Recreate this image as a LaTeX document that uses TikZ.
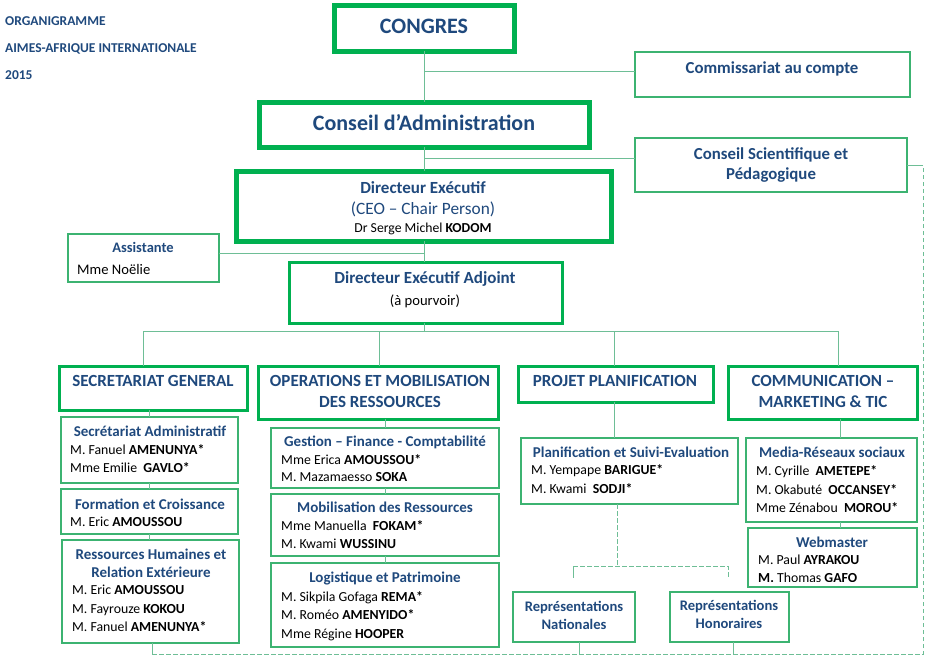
\documentclass[tikz,border=0pt]{standalone}
\usepackage{fontspec}
\setmainfont{Carlito}
\definecolor{dblue}{RGB}{31,73,125}
\definecolor{gthick}{RGB}{0,176,80}
\definecolor{gthin}{RGB}{60,179,113}
\definecolor{gline}{RGB}{110,190,150}
\newcommand\mybox[6]{\node[#2, anchor=north west, minimum width={(#5-#3)*1pt}, minimum height={(#6-#4)*1pt}, inner sep=0pt, outer sep=0pt] (#1) at (#3,#4) {};}
\begin{document}
\begin{tikzpicture}[x=1pt,y=-1pt,
 bigbox/.style={draw=gthick, line width=5pt, fill=white},
 midbox/.style={draw=gthick, line width=3pt, fill=white},
 subbox/.style={draw=gthin, line width=1.3pt, fill=white},
 conn/.style={draw=gline, line width=0.9pt},
 dconn/.style={conn, dash pattern=on 4.5pt off 2.5pt},
 txt/.style={inner sep=0pt, yshift=-2pt},
 hdr/.style={txt, text=dblue, font=\fontsize{13.5}{16}\selectfont\bfseries, anchor=mid west},
 huge/.style={txt, text=dblue, font=\fontsize{22}{26}\selectfont\bfseries, anchor=mid},
 dept/.style={txt, text=dblue, font=\fontsize{17}{20}\selectfont\bfseries, anchor=mid},
 ttl/.style={txt, text=dblue, font=\fontsize{15}{18}\selectfont\bfseries, anchor=mid},
 nm/.style={txt, text=black, font=\fontsize{13.8}{16}\selectfont, anchor=mid west},
 nmc/.style={txt, text=black, font=\fontsize{13.8}{16}\selectfont, anchor=mid}]
\useasboundingbox (0,0) rectangle (932,659);

% header
\node[hdr] (h1) at (5,21) {ORGANIGRAMME};
\node[hdr] (h2) at (5,48) {AIMES-AFRIQUE INTERNATIONALE};
\node[hdr] (h3) at (5,75) {2015};

% top boxes
\mybox{congres}{bigbox}{334}{5}{514}{51}
\node[huge] (tcongres) at (424,29) {CONGRES};
\mybox{com}{subbox}{635}{52}{910}{97}
\node[dept, font=\fontsize{16.8}{20}\selectfont\bfseries] (tcom) at (772,69) {Commissariat au compte};
\mybox{cda}{bigbox}{259}{102}{589}{147}
\node[huge] (tcda) at (424,126) {Conseil d’Administration};
\mybox{cs}{subbox}{635}{138}{907}{192}
\node[dept, font=\fontsize{16.8}{20}\selectfont\bfseries] (tcs1) at (771,155) {Conseil Scientifique et};
\node[dept, font=\fontsize{16.8}{20}\selectfont\bfseries] (tcs2) at (771,175) {Pédagogique};
\mybox{de}{bigbox}{236}{171}{611}{241}
\node[dept, font=\fontsize{17}{20}\selectfont\bfseries] (tde1) at (423,189) {Directeur Exécutif};
\node[dept, font=\fontsize{17.3}{20}\selectfont] (tde2) at (423,210) {(CEO – Chair Person)};
\node[nmc, font=\fontsize{13.7}{16}\selectfont] (tde3) at (423,228) {Dr Serge Michel \textbf{KODOM}};
\mybox{ass}{subbox}{68}{234}{219}{282}
\node[ttl, font=\fontsize{14.5}{17}\selectfont\bfseries] (tass1) at (143,248) {Assistante};
\node[nm, font=\fontsize{14.6}{17}\selectfont] (tass2) at (77,270) {Mme Noëlie};
\mybox{dea}{midbox}{289}{262}{562}{323}
\node[dept, font=\fontsize{17}{20}\selectfont\bfseries] (tdea1) at (425,279) {Directeur Exécutif Adjoint};
\node[nmc, font=\fontsize{14.6}{17}\selectfont] (tdea2) at (425,301) {(à pourvoir)};

% departments
\mybox{sg}{midbox}{59}{366}{247}{410}
\node[dept] (tsg) at (153,382) {SECRETARIAT GENERAL};
\mybox{omr}{midbox}{258}{366}{498}{419}
\node[dept] (tomr1) at (380,382) {OPERATIONS ET MOBILISATION};
\node[dept] (tomr2) at (380,403) {DES RESSOURCES};
\mybox{pp}{midbox}{518}{366}{713}{402}
\node[dept] (tpp) at (615,382) {PROJET PLANIFICATION};
\mybox{cm}{midbox}{728}{366}{917}{419}
\node[dept] (tcm1) at (823,382) {COMMUNICATION –};
\node[dept] (tcm2) at (823,403) {MARKETING \& TIC};

% SG column
\mybox{sadm}{subbox}{61}{417}{238}{483}
\node[ttl] (tsadm) at (150,432) {Secrétariat Administratif};
\node[nm] (sadm1) at (70,450) {M. Fanuel \textbf{AMENUNYA*}};
\node[nm] (sadm2) at (70,468) {Mme Emilie\ \ \textbf{GAVLO*}};
\mybox{form}{subbox}{61}{489}{238}{534}
\node[ttl] (tform) at (150,505) {Formation et Croissance};
\node[nm] (form1) at (70,522) {M. Eric \textbf{AMOUSSOU}};
\mybox{rh}{subbox}{62}{540}{239}{643}
\node[ttl] (trh1) at (151,555) {Ressources Humaines et};
\node[ttl] (trh2) at (151,573) {Relation Extérieure};
\node[nm] (rh1) at (72,590) {M. Eric \textbf{AMOUSSOU}};
\node[nm] (rh2) at (72,609) {M. Fayrouze \textbf{KOKOU}};
\node[nm] (rh3) at (72,627) {M. Fanuel \textbf{AMENUNYA*}};

% OMR column
\mybox{gest}{subbox}{271}{428}{499}{488}
\node[ttl] (tgest) at (385,442) {Gestion – Finance - Comptabilité};
\node[nm] (gest1) at (281,460) {Mme Erica \textbf{AMOUSSOU*}};
\node[nm] (gest2) at (281,477) {M. Mazamaesso \textbf{SOKA}};
\mybox{mob}{subbox}{271}{494}{499}{556}
\node[ttl] (tmob) at (385,508) {Mobilisation des Ressources};
\node[nm] (mob1) at (281,526) {Mme Manuella\ \ \textbf{FOKAM*}};
\node[nm] (mob2) at (281,544) {M. Kwami \textbf{WUSSINU}};
\mybox{log}{subbox}{271}{563}{499}{647}
\node[ttl] (tlog) at (385,578) {Logistique et Patrimoine};
\node[nm] (log1) at (281,597) {M. Sikpila Gofaga \textbf{REMA*}};
\node[nm] (log2) at (281,615) {M. Roméo \textbf{AMENYIDO*}};
\node[nm] (log3) at (281,634) {Mme Régine \textbf{HOOPER}};

% PP column
\mybox{plan}{subbox}{521}{438}{738}{504}
\node[ttl] (tplan) at (631,453) {Planification et Suivi-Evaluation};
\node[nm] (plan1) at (531,470) {M. Yempape \textbf{BARIGUE*}};
\node[nm] (plan2) at (531,489) {M. Kwami\ \ \textbf{SODJI*}};
\mybox{repn}{subbox}{513}{592}{635}{642}
\node[ttl, font=\fontsize{14.6}{17}\selectfont\bfseries] (trepn1) at (574,607) {Représentations};
\node[ttl, font=\fontsize{14.6}{17}\selectfont\bfseries] (trepn2) at (574,625) {Nationales};
\mybox{reph}{subbox}{670}{592}{789}{642}
\node[ttl, font=\fontsize{14.6}{17}\selectfont\bfseries] (treph1) at (729,606) {Représentations};
\node[ttl, font=\fontsize{14.6}{17}\selectfont\bfseries] (treph2) at (729,624) {Honoraires};

% Comm column
\mybox{media}{subbox}{746}{438}{917}{522}
\node[ttl] (tmedia) at (832,453) {Media-Réseaux sociaux};
\node[nm] (media1) at (756,471) {M. Cyrille\ \ \textbf{AMETEPE*}};
\node[nm] (media2) at (756,490) {M. Okabuté\ \ \textbf{OCCANSEY*}};
\node[nm] (media3) at (756,508) {Mme Zénabou\ \ \textbf{MOROU*}};
\mybox{web}{subbox}{748}{528}{917}{587}
\node[ttl] (tweb) at (832,543) {Webmaster};
\node[nm] (web1) at (758,560) {M. Paul \textbf{AYRAKOU}};
\begin{scope}
\clip (748,528) rectangle (917,581);
\node[nm] (web2) at (758,578) {\textbf{M.} Thomas \textbf{GAFO}};
\end{scope}

% connectors top
\coordinate (j1) at (424,71);
\coordinate (j2) at (424,158);
\coordinate (j3) at (424,253);
\draw[conn] (congres.south) -- (cda.north);
\draw[conn] (j1) -- (j1 -| com.west);
\draw[conn] (cda.south) -- (de.north -| cda.south);
\draw[conn] (j2) -- (j2 -| cs.west);
\draw[conn] (de.south -| j3) -- (dea.north -| j3);
\draw[conn] (ass.east |- j3) -- (j3);
% bus
\coordinate (b0) at (424,331);
\coordinate (b1) at (143,331);
\coordinate (b2) at (379,331);
\coordinate (b3) at (614,331);
\coordinate (b4) at (838,331);
\draw[conn] (dea.south -| b0) -- (b0);
\draw[conn] (b1) -- (b4);
\draw[conn] (b1) -- (b1 |- sg.north);
\draw[conn] (b2) -- (b2 |- omr.north);
\draw[conn] (b3) -- (b3 |- pp.north);
\draw[conn] (b4) -- (b4 |- cm.north);
% columns
\coordinate (c1) at (149,0);
\draw[conn] (c1 |- sg.south) -- (c1 |- sadm.north);
\draw[conn] (c1 |- sadm.south) -- (c1 |- form.north);
\draw[conn] (c1 |- form.south) -- (c1 |- rh.north);
\coordinate (c2) at (385,0);
\draw[conn] (c2 |- omr.south) -- (c2 |- gest.north);
\draw[conn] (c2 |- gest.south) -- (c2 |- mob.north);
\draw[conn] (c2 |- mob.south) -- (c2 |- log.north);
\draw[conn] (b3 |- pp.south) -- (b3 |- plan.north);
\coordinate (c4) at (840,0);
\draw[conn] (c4 |- cm.south) -- (c4 |- media.north);
\draw[conn] (c4 |- media.south) -- (c4 |- web.north);
% dashed links to representations
\coordinate (d0) at (617,566);
\coordinate (d1) at (573,566);
\coordinate (d2) at (728,566);
\coordinate (d1e) at (573,578);
\coordinate (d2e) at (728,577);
\draw[dconn] (plan.south -| d0) -- (d0);
\draw[dconn] (d1) -- (d2) -- (d2e);
\draw[conn] (d1) -- (d1e);
% bottom dashed loop
\coordinate (e0) at (152,654);
\coordinate (e1) at (923,654);
\coordinate (e2) at (923,165);
\coordinate (en) at (579,654);
\coordinate (eh) at (733,654);
\draw[conn] (rh.south -| e0) -- (e0);
\draw[conn] (repn.south -| en) -- (en);
\draw[conn] (reph.south -| eh) -- (eh);
\draw[dconn] (e0) -- (e1) -- (e2);
\draw[conn] (e2) -- (cs.east);
\end{tikzpicture}
\end{document}
